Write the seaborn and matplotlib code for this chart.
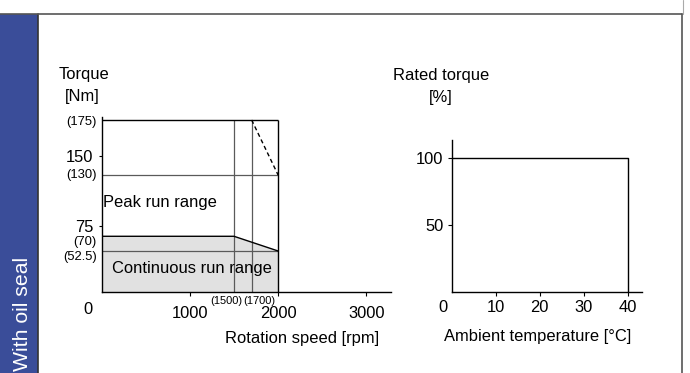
import numpy as np
import matplotlib
matplotlib.use("Agg")
import matplotlib.pyplot as plt
import seaborn as sns
from matplotlib.patches import Rectangle
from matplotlib.lines import Line2D

# speed - torque characteristics (with oil seal)
cont_speed = [0, 1500, 2000]
cont_torque = [70, 70, 52.5]
peak_drop_speed = [1700, 2000]
peak_drop_torque = [175, 130]
max_speed = 2000
max_torque = 175
speed_marks = [1500, 1700]
torque_marks = [175, 130, 70, 52.5]
torque_ticks = [75, 150]
speed_ticks = [1000, 2000, 3000]

# ambient temperature derating
temp = [0, 40, 40]
rated_pct = [100, 100, 0]
temp_ticks = [10, 20, 30, 40]
pct_ticks = [50, 100]

# the torque axis is drawn schematic, not linear: value -> pixel height
y_knots = [0, 52.5, 70, 75, 130, 150, 175, 200]
y_pix = [0, 40.7, 55.4, 66, 116.7, 135.2, 171.7, 208.7]

def fwd(v):
    return np.interp(v, y_knots, y_pix)

def inv(p):
    return np.interp(p, y_pix, y_knots)

sns.set_theme(style="ticks")
plt.rcParams["font.family"] = ["Liberation Sans", "DejaVu Sans"]
plt.rcParams["text.color"] = "black"
plt.rcParams["axes.edgecolor"] = "black"
plt.rcParams["xtick.color"] = "black"
plt.rcParams["ytick.color"] = "black"
plt.rcParams["axes.linewidth"] = 1.0

W, H = 690, 373
fig = plt.figure(figsize=(W / 100, H / 100), dpi=100)

def fx(px):
    return px / W

def fy(py):
    return 1 - py / H

# frame + blue side band
fig.patches.append(Rectangle((0, 0), fx(38), fy(14), transform=fig.transFigure,
                             facecolor="#3a4d99", edgecolor="none"))
fig.lines.append(Line2D([fx(38), fx(38)], [0, fy(14)], transform=fig.transFigure,
                        color="#333333", lw=1.2))
fig.lines.append(Line2D([0, fx(681.5)], [fy(14), fy(14)], transform=fig.transFigure,
                        color="#555555", lw=1.2))
fig.lines.append(Line2D([fx(681.5), fx(681.5)], [0, fy(14)], transform=fig.transFigure,
                        color="#555555", lw=1.2))
fig.lines.append(Line2D([fx(682.5), fx(682.5)], [fy(14), 1], transform=fig.transFigure,
                        color="#aaaaaa", lw=0.8))
fig.text(fx(28.5), fy(371), "With oil seal", rotation=90, rotation_mode="anchor",
         ha="left", va="baseline", color="white", fontsize=15.3)

big = 11.9
small = 9.4

# ---- left: speed / torque
ax1 = fig.add_axes([fx(101.7), fy(291.7), fx(391) - fx(101.7), fy(117) - fy(291.7)])
ax1.set_yscale("function", functions=(fwd, inv))
ax1.set_xlim(0, (391 - 101.7) / 0.0882)
ax1.set_ylim(0, 177)

ax1.fill_between(cont_speed, 0, cont_torque, color="#e1e1e1", lw=0)
ax1.hlines([52.5, 130], 0, max_speed, color="#5a5a5a", lw=0.9)
ax1.vlines(speed_marks, 0, max_torque, color="#5a5a5a", lw=0.9)
ax1.vlines(max_speed, 0, max_torque, color="black", lw=1.0)
ax1.hlines(max_torque, 0, max_speed, color="black", lw=1.0)
sns.lineplot(x=cont_speed, y=cont_torque, ax=ax1, color="black", lw=1.0,
             estimator=None, sort=False)
sns.lineplot(x=peak_drop_speed, y=peak_drop_torque, ax=ax1, color="black", lw=1.0,
             estimator=None, sort=False, linestyle=(0, (3, 2.2)))

ax1.set_xticks(speed_ticks)
ax1.set_yticks(torque_ticks)
ax1.set_xticklabels([str(v) for v in speed_ticks], fontsize=big)
ax1.set_yticklabels([str(v) for v in torque_ticks], fontsize=big)
ax1.tick_params(axis="y", length=2.5, width=0.8, pad=3.4)
ax1.tick_params(axis="x", length=3, width=0.8, pad=7.6)
ax1.set_xlabel("")
ax1.set_ylabel("")

marks_dy = [-1.4, 0, -4.0, -4.0]
for v, dy in zip(torque_marks, marks_dy):
    ax1.annotate("(%g)" % v, xy=(0, v), xycoords=("axes fraction", "data"),
                 xytext=(-3.6, dy), textcoords="offset points",
                 ha="right", va="center", fontsize=small)
mid = sum(speed_marks) / 2
ax1.annotate("(%d)" % speed_marks[0], xy=(mid, 0), xycoords=("data", "axes fraction"),
             xytext=(0, -6.5), textcoords="offset points", ha="right", va="center",
             fontsize=8)
ax1.annotate("(%d)" % speed_marks[1], xy=(mid, 0), xycoords=("data", "axes fraction"),
             xytext=(0, -6.5), textcoords="offset points", ha="left", va="center",
             fontsize=8)
ax1.annotate("0", xy=(0, 0), xycoords="axes fraction", xytext=(-9.6, -7.2),
             textcoords="offset points", ha="center", va="top", fontsize=big)
ax1.text(18, 100, "Peak run range", ha="left", va="center", fontsize=big)
ax1.text(1018, 30.5, "Continuous run range", ha="center", va="center", fontsize=big)

# ---- right: ambient temperature / rated torque
ax2 = fig.add_axes([fx(451.7), fy(291.7), fx(642.3) - fx(451.7), fy(140) - fy(291.7)])
ax2.set_xlim(0, 43.3)
ax2.set_ylim(0, 113.8)
sns.lineplot(x=temp, y=rated_pct, ax=ax2, color="black", lw=1.0,
             estimator=None, sort=False)
ax2.set_xticks(temp_ticks)
ax2.set_yticks(pct_ticks)
ax2.set_xticklabels([str(v) for v in temp_ticks], fontsize=big)
ax2.set_yticklabels([str(v) for v in pct_ticks], fontsize=big)
ax2.tick_params(axis="y", length=3, width=0.8, pad=3.0)
ax2.tick_params(axis="x", length=3, width=0.8, pad=3.0)
ax2.set_xlabel("")
ax2.set_ylabel("")
ax2.annotate("0", xy=(0, 0), xycoords="axes fraction", xytext=(-6.3, -6.0),
             textcoords="offset points", ha="center", va="top", fontsize=big)

for a in (ax1, ax2):
    sns.despine(ax=a)

# axis titles
fig.text(fx(84), fy(75), "Torque", ha="center", va="center", fontsize=big)
fig.text(fx(82), fy(96), "[Nm]", ha="center", va="center", fontsize=big)
fig.text(fx(302.3), fy(338), "Rotation speed [rpm]", ha="center", va="center", fontsize=big)
fig.text(fx(441.3), fy(75.7), "Rated torque", ha="center", va="center", fontsize=big)
fig.text(fx(441), fy(97.7), "[%]", ha="center", va="center", fontsize=big)
fig.text(fx(538), fy(336.7), "Ambient temperature [°C]", ha="center", va="center", fontsize=big)

fig.savefig("out.png", dpi=100)
